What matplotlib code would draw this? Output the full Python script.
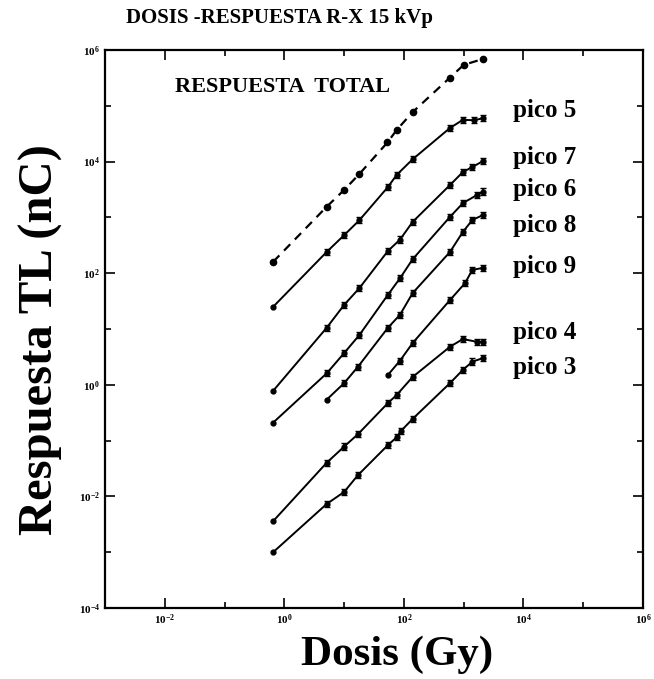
import numpy as np
import matplotlib
matplotlib.use('Agg')
import matplotlib.pyplot as plt
from matplotlib.ticker import FixedLocator, NullFormatter

# Dose-response data (dose in Gy, TL response in nC)

dosis_total = [0.65, 5.1, 10, 18, 53, 76, 140, 590, 1000, 2100]
resp_total = [160, 1550, 3100, 6000, 22000, 37000, 77000, 3.2e5, 5.4e5, 6.9e5]

dosis_p5 = [0.65, 5.1, 10, 18, 54, 76, 140, 590, 970, 1500, 2100]
resp_p5 = [25, 240, 480, 890, 3500, 5800, 11000, 40000, 56000, 55000, 60000]

dosis_p7 = [0.65, 5.1, 10, 18, 54, 86, 140, 590, 970, 1400, 2100]
resp_p7 = [0.78, 10.5, 27, 54, 250, 400, 830, 3800, 6500, 8000, 10200]

dosis_p6 = [0.65, 5.1, 10, 18, 54, 86, 140, 590, 970, 1650, 2100]
resp_p6 = [0.21, 1.6, 3.7, 7.8, 41, 81, 178, 1020, 1800, 2500, 2900]

dosis_p8 = [5.1, 10, 17, 54, 86, 140, 590, 970, 1400, 2100]
resp_p8 = [0.54, 1.07, 2.1, 10.5, 18, 44, 240, 550, 900, 1100]

dosis_p9 = [54, 86, 140, 590, 1050, 1400, 2100]
resp_p9 = [1.5, 2.7, 5.6, 33, 66, 115, 124]

dosis_p4 = [0.65, 5.1, 10, 17, 54, 76, 140, 590, 970, 1650, 2100]
resp_p4 = [0.0036, 0.04, 0.078, 0.13, 0.47, 0.66, 1.38, 4.8, 6.6, 5.9, 5.9]

dosis_p3 = [0.65, 5.1, 10, 17, 54, 76, 89, 140, 590, 970, 1400, 2100]
resp_p3 = [0.001, 0.0073, 0.012, 0.024, 0.083, 0.115, 0.148, 0.245, 1.07, 1.85, 2.6, 3.0]

etiquetas = ['pico 5', 'pico 7', 'pico 6', 'pico 8', 'pico 9', 'pico 4', 'pico 3']
etiqueta_y = [8.2e4, 1.2e4, 3.1e3, 7.3e2, 1.3e2, 8.5, 2.0]

plt.rcParams['font.family'] = ['Liberation Serif', 'DejaVu Serif']
plt.rcParams['font.weight'] = 'bold'
plt.rcParams['mathtext.fontset'] = 'stix'

fig = plt.figure(figsize=(6.54, 6.79), dpi=100)
ax = fig.add_axes([0.1606, 0.1046, 0.8226, 0.8218])

ax.plot(dosis_total, resp_total, 'k--', lw=1.6, dashes=(4, 3),
        marker='o', ms=4.5)
series = [(dosis_p5, resp_p5), (dosis_p7, resp_p7), (dosis_p6, resp_p6),
          (dosis_p8, resp_p8), (dosis_p9, resp_p9), (dosis_p4, resp_p4),
          (dosis_p3, resp_p3)]
for d, r in series:
    ax.plot(d, r, 'k-', lw=1.4, marker='o', ms=3.5)
    # small error-bar marks like the original glyphs
    ax.errorbar(d[1:], r[1:], yerr=[np.array(r[1:]) * 0.12,
                                     np.array(r[1:]) * 0.14],
                fmt='none', ecolor='k', elinewidth=1.2, capsize=2.5)

ax.set_xscale('log')
ax.set_yscale('log')
ax.set_xlim(1e-3, 1e6)
ax.set_ylim(1e-4, 1e6)

ax.xaxis.set_major_locator(FixedLocator([1e-2, 1e0, 1e2, 1e4, 1e6]))
ax.xaxis.set_minor_locator(FixedLocator([1e-1, 1e1, 1e3, 1e5]))
ax.yaxis.set_major_locator(FixedLocator([1e-4, 1e-2, 1e0, 1e2, 1e4, 1e6]))
ax.yaxis.set_minor_locator(FixedLocator([1e-3, 1e-1, 1e1, 1e3, 1e5]))
ax.xaxis.set_minor_formatter(NullFormatter())
ax.yaxis.set_minor_formatter(NullFormatter())
ax.tick_params(which='both', direction='in', top=True, right=True,
               labelsize=8, width=1.2)
ax.tick_params(which='major', length=7)
ax.tick_params(which='minor', length=4)
for s in ax.spines.values():
    s.set_linewidth(1.6)

fig.text(0.428, 0.973, 'DOSIS -RESPUESTA R-X 15 kVp', fontsize=15,
         fontweight='bold', ha='center', va='center')
fig.text(0.607, 0.035, 'Dosis (Gy)', fontsize=31, fontweight='bold',
         ha='center', va='center')
fig.text(0.062, 0.50, 'Respuesta TL (nC)', fontsize=35, fontweight='bold',
         ha='center', va='center', rotation=90)

ax.text(0.015, 2.2e5, 'RESPUESTA  TOTAL', fontsize=16, fontweight='bold',
        ha='left', va='center')
for txt, yv in zip(etiquetas, etiqueta_y):
    ax.text(6.6e3, yv, txt, fontsize=18, fontweight='bold',
            ha='left', va='center')

fig.savefig('out.png', dpi=100)
